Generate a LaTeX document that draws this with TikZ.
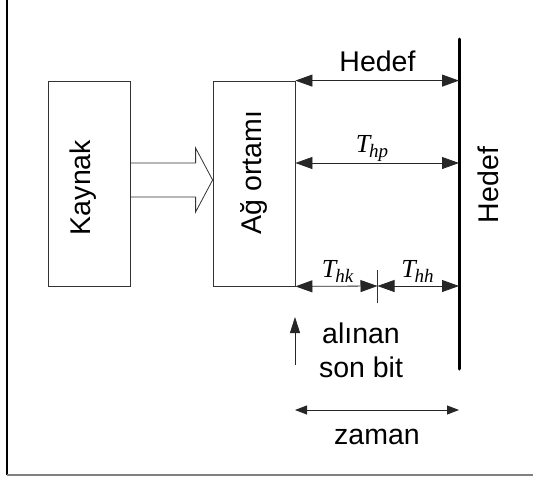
\documentclass[tikz,border=0pt]{standalone}
\usepackage{fontspec}
\setmainfont{Liberation Sans}
\newfontfamily\serifit[ItalicFont={Liberation Serif Italic}]{Liberation Serif}
\usetikzlibrary{arrows.meta,calc}

\newcommand{\bigtxt}[1]{\scalebox{2}{\fontsize{14.25}{17}\selectfont #1}}
\newcommand{\tlbl}[1]{\scalebox{2}{\fontsize{13}{15}\selectfont\serifit\itshape T\kern-0.5pt\raisebox{-2.5pt}{\fontsize{9.5}{10}\selectfont #1}}}

\tikzset{
  box/.style={draw=black!80, line width=0.8pt, inner sep=0pt},
  txt/.style={inner sep=0pt, anchor=base},
  dimarrow/.style={black!85, line width=0.8pt, {Triangle[length=17pt,width=12pt]}-{Triangle[length=17pt,width=12pt]}},
  timearrow/.style={black!85, line width=0.8pt, {Triangle[length=12pt,width=9pt]}-{Triangle[length=12pt,width=9pt]}}
}

\begin{document}
\begin{tikzpicture}[x=1pt,y=-1pt]
    \useasboundingbox (0,0) rectangle (533,477);

    % outer frame (left and bottom only)
    \draw[black, line width=1.2pt] (7,0) -- (7,475);
    \draw[gray, line width=1.5pt] (7,475) -- (533,475);

    % blocks
    \node[box, minimum width=81.4pt, minimum height=205pt] (kaynak) at (89.3,183.5) {};
    \node[box, minimum width=82pt, minimum height=205pt] (ortam) at (254,183.5) {};
    \node[txt, rotate=90] (kaynakTxt) at (90,187.5) {\bigtxt{Kaynak}};
    \node[txt, rotate=90] (ortamTxt) at (261,172.5) {\bigtxt{Ağ ortamı}};

    % hollow arrow
    \draw[black!80, line width=0.8pt] (kaynak.east |- 0,163) -- (195.6,163) -- (195.6,148)
        -- (ortam.west |- 0,180) -- (195.6,212) -- (195.6,197) -- (kaynak.east |- 0,197);

    % destination
    \coordinate (hedefTop) at (459,39);
    \coordinate (hedefBot) at (459,369);
    \draw[black, line width=3pt, line cap=round] (hedefTop) -- (hedefBot);
    \node[txt, rotate=90] (hedefSide) at (498,185) {\bigtxt{Hedef}};

    % timing arrows
    \draw[dimarrow] (ortam.north east) -- (ortam.north east -| hedefTop);
    \node[txt] (hedefTxt) at (377.5,71) {\bigtxt{Hedef}};

    \coordinate (hpL) at (ortam.east |- 0,163);
    \draw[dimarrow] (hpL) -- (hpL -| hedefTop);
    \node[txt] (thp) at (372,152) {\tlbl{hp}};

    \coordinate (split) at (377.5,286);
    \draw[dimarrow] (ortam.south east) -- (split);
    \draw[dimarrow] (split) -- (split -| hedefTop);
    \draw[black!80, line width=0.6pt] ($(split)+(0,-16)$) -- ($(split)+(0,17)$);
    \node[txt] (thk) at (337.5,277) {\tlbl{hk}};
    \node[txt] (thh) at (417.5,277) {\tlbl{hh}};

    % last bit received
    \coordinate (bitLow) at (295,365);
    \coordinate (bitHigh) at (295,317);
    \draw[black!85, line width=0.8pt, -{Triangle[length=16pt,width=10pt]}] (bitLow) -- (bitHigh);
    \node[txt] (sonBit) at (361,377) {\bigtxt{\begin{tabular}[b]{@{}c@{}}alınan\\son bit\end{tabular}}};

    % time axis
    \coordinate (zamanL) at (295,410);
    \draw[timearrow] (zamanL) -- (zamanL -| hedefTop);
    \node[txt] (zamanTxt) at (377,444) {\bigtxt{zaman}};
\end{tikzpicture}
\end{document}
